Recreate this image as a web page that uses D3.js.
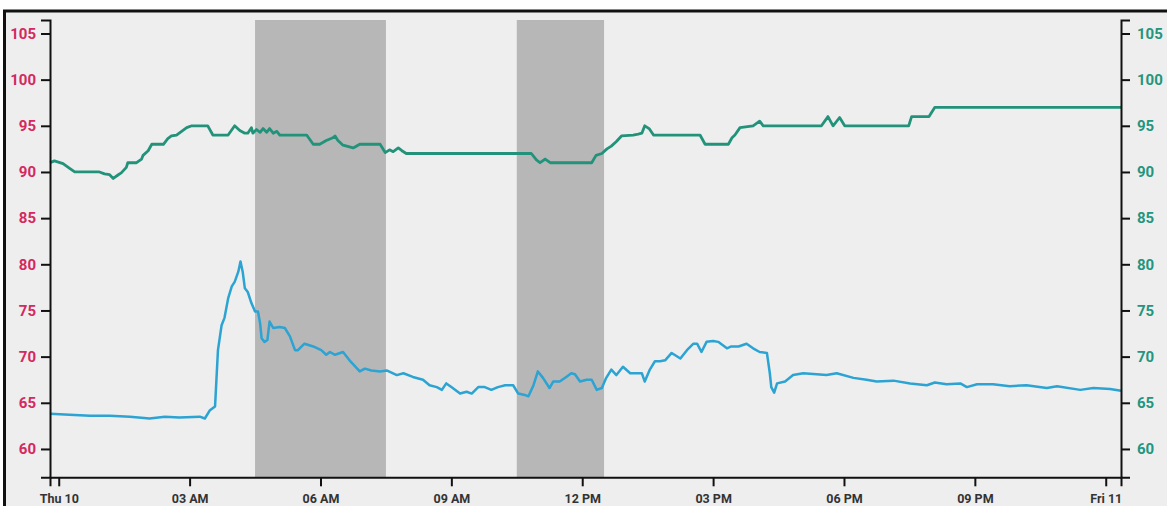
<!DOCTYPE html>
<html>
<head>
<meta charset="utf-8">
<script src="https://cdn.jsdelivr.net/npm/d3@7"></script>
<style>
html,body{margin:0;padding:0;background:#fff;}
svg{display:block;}
</style>
</head>
<body>
<script>
// ---- data (minutes after Thu 10, 00:00) ----
const baseDate = new Date(2015, 8, 10, 0, 0, 0);

const greenMinutes = [-12,-6,6,15,22,56,63,70,75,82,86,93,95,107,114,116,123,128,144,150,155,162,169,176,183,205,212,233,242,249,256,260,265,267,272,277,281,286,290,295,300,304,341,350,359,368,377,380,384,391,405,414,442,449,455,460,467,472,478,650,657,662,669,676,733,739,747,754,760,767,774,790,797,802,806,812,818,882,889,921,926,930,937,955,964,969,1049,1058,1065,1074,1081,1169,1173,1197,1205,1461];
const greenValues  = [91.0,91.2,90.9,90.4,90.0,90.0,89.8,89.7,89.3,89.7,89.9,90.5,91.0,91.0,91.4,91.8,92.3,93.0,93.0,93.6,93.9,94.0,94.4,94.8,95.0,95.0,94.0,94.0,95.0,94.5,94.2,94.2,94.8,94.2,94.6,94.3,94.7,94.3,94.7,94.2,94.4,94.0,94.0,93.0,93.0,93.4,93.7,93.9,93.4,92.9,92.6,93.0,93.0,92.1,92.4,92.2,92.6,92.3,92.0,92.0,91.3,91.0,91.4,91.0,91.0,91.8,92.0,92.5,92.8,93.3,93.9,94.0,94.1,94.2,95.0,94.7,94.0,94.0,93.0,93.0,93.7,94.0,94.8,95.0,95.5,95.0,95.0,96.0,95.0,95.9,95.0,95.0,96.0,96.0,97.0,97.0];

const blueMinutes = [-12,15,43,70,98,125,146,166,194,201,208,215,219,224,228,233,238,242,247,250,253,256,260,265,270,274,277,279,283,287,290,295,304,311,318,325,329,338,350,361,368,373,380,391,400,414,421,430,442,451,465,474,487,501,510,520,527,533,540,552,561,568,577,586,595,604,614,625,632,641,646,653,659,666,675,680,689,698,705,710,717,726,733,740,747,753,760,767,776,786,795,802,806,813,820,827,834,843,855,864,873,878,884,891,900,907,919,925,935,946,955,964,974,978,980,984,988,999,1010,1024,1056,1070,1093,1111,1125,1148,1171,1194,1205,1221,1240,1249,1263,1285,1308,1331,1359,1373,1405,1423,1446,1461];
const blueValues  = [63.8,63.7,63.6,63.6,63.5,63.3,63.5,63.4,63.5,63.3,64.2,64.6,70.7,73.4,74.2,76.3,77.6,78.1,79.2,80.3,79.2,77.4,77.0,75.8,74.9,74.9,73.6,72.0,71.6,71.8,73.8,73.1,73.2,73.1,72.2,70.7,70.7,71.4,71.1,70.7,70.2,70.5,70.2,70.5,69.6,68.4,68.7,68.5,68.4,68.5,68.0,68.2,67.8,67.5,66.9,66.7,66.4,67.1,66.7,66.0,66.2,66.0,66.7,66.7,66.4,66.7,66.9,66.9,66.0,65.85,65.7,66.9,68.4,67.7,66.6,67.3,67.3,67.8,68.2,68.1,67.3,67.5,67.5,66.4,66.6,67.7,68.6,68.0,68.9,68.2,68.2,68.2,67.3,68.6,69.5,69.5,69.6,70.4,69.8,70.7,71.4,71.4,70.5,71.6,71.7,71.6,70.9,71.1,71.1,71.4,70.9,70.5,70.4,68.2,66.7,66.1,67.1,67.3,68.0,68.2,68.0,68.2,67.7,67.5,67.3,67.4,67.1,66.9,67.2,67.0,67.1,66.7,67.0,67.0,66.8,66.9,66.6,66.8,66.4,66.6,66.5,66.3];

// shaded periods (minutes)
const shadeStarts = [270, 630];
const shadeEnds   = [450, 750];

const yDomain = [56.93, 106.46];
const yTicks = [60, 65, 70, 75, 80, 85, 90, 95, 100, 105];

// ---- layout ----
const W = 1167, H = 506;
const mLeft = 50, mRight = 1121, mTop = 20, mBottom = 477.3;

const toDate = m => new Date(baseDate.getTime() + m * 60000);
const green = greenMinutes.map((m, i) => ({t: toDate(m), v: greenValues[i]}));
const blue = blueMinutes.map((m, i) => ({t: toDate(m), v: blueValues[i]}));

const svg = d3.select("body").append("svg").attr("width", W).attr("height", H);

// frame
svg.append("rect").attr("x", 4.5).attr("y", 11).attr("width", 2000).attr("height", 2000)
  .attr("fill", "#eeeeee").attr("stroke", "#111").attr("stroke-width", 3);

const x = d3.scaleTime()
  .domain(d3.extent(green.concat(blue), d => d.t))
  .range([mLeft, mRight]);
const y = d3.scaleLinear().domain(yDomain).range([mBottom, mTop]);

// shading
svg.append("g").selectAll("rect").data(shadeStarts).join("rect")
  .attr("x", (d) => x(toDate(d)))
  .attr("width", (d, i) => x(toDate(shadeEnds[i])) - x(toDate(d)))
  .attr("y", mTop).attr("height", mBottom - mTop)
  .attr("fill", "#b7b7b7");

const line = d3.line().x(d => x(d.t)).y(d => y(d.v));

svg.append("path").datum(blue).attr("d", line)
  .attr("fill", "none").attr("stroke", "#2ba3d3").attr("stroke-width", 2.5)
  .attr("stroke-linejoin", "round");
svg.append("path").datum(green).attr("d", line)
  .attr("fill", "none").attr("stroke", "#22937a").attr("stroke-width", 2.8)
  .attr("stroke-linejoin", "round");

// axes
const fontY = "Roboto, 'DejaVu Sans', sans-serif";

const xAxis = d3.axisBottom(x).ticks(d3.timeHour.every(3)).tickSize(9).tickSizeOuter(9).tickPadding(8);
const gx = svg.append("g").attr("transform", `translate(0,${mBottom})`).call(xAxis);
gx.selectAll("text").attr("fill", "#333").style("font", `bold 12.5px ${fontY}`);

const yAxisL = d3.axisLeft(y).tickValues(yTicks).tickSize(9).tickSizeOuter(9).tickPadding(5);
const gl = svg.append("g").attr("transform", `translate(${mLeft},0)`).call(yAxisL);
gl.selectAll("text").attr("fill", "#d4285e").style("font", `bold 15px ${fontY}`);

const yAxisR = d3.axisRight(y).tickValues(yTicks).tickSize(9).tickSizeOuter(9).tickPadding(7);
const gr = svg.append("g").attr("transform", `translate(${mRight},0)`).call(yAxisR);
gr.selectAll("text").attr("fill", "#23957e").style("font", `bold 15px ${fontY}`);

svg.selectAll(".domain").attr("stroke", "#111").attr("stroke-width", 2);
svg.selectAll(".tick line").attr("stroke", "#111").attr("stroke-width", 2);
</script>
</body>
</html>
